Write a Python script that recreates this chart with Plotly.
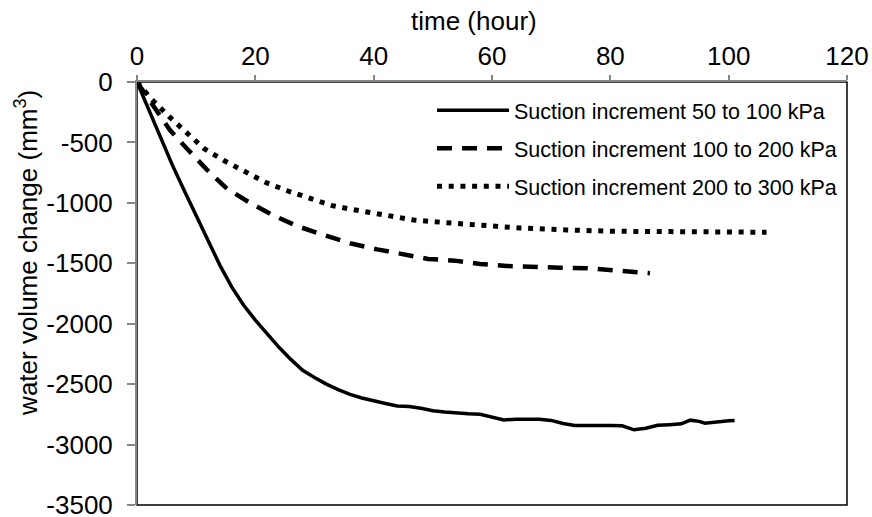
import plotly.graph_objects as go

# Suction increment 50 to 100 kPa
t_50_100 = [0, 2, 4, 6, 8, 10, 12, 14, 16, 18, 20, 22, 24, 26, 28, 30, 32, 34, 36, 38,
            40, 42, 44, 46, 48, 50, 52, 54, 56, 58, 60, 62, 64, 66, 68, 70, 72, 74, 76,
            78, 80, 82, 84, 86, 88, 90, 92, 93.5, 95, 96, 98, 100, 101]
v_50_100 = [0, -230, -470, -690, -900, -1105, -1315, -1515, -1695, -1845, -1970, -2085,
            -2195, -2295, -2385, -2445, -2500, -2545, -2585, -2615, -2640, -2660, -2680,
            -2685, -2700, -2720, -2730, -2740, -2745, -2750, -2770, -2796, -2790, -2788,
            -2790, -2800, -2825, -2842, -2840, -2840, -2842, -2845, -2878, -2865, -2840,
            -2835, -2828, -2798, -2808, -2823, -2810, -2803, -2800]

# Suction increment 100 to 200 kPa
t_100_200 = [0, 1, 2.5, 5.6, 8.7, 11.8, 15.2, 19.1, 23.1, 27, 31.5, 36, 40.6, 44.4, 49.2,
             53.7, 58, 62.5, 67, 71.5, 76, 80.5, 84, 86.7]
v_100_200 = [0, -70, -176, -400, -565, -725, -882, -1000, -1105, -1191, -1265, -1334,
             -1385, -1423, -1464, -1478, -1505, -1522, -1533, -1536, -1541, -1555, -1575,
             -1582]

# Suction increment 200 to 300 kPa
t_200_300 = [0, 2.5, 5.4, 8.3, 11.3, 14.7, 18.1, 21.7, 25.4, 29.2, 33, 36.9, 40.8, 46.7,
             52.3, 58, 64.7, 72.6, 80.5, 90.1, 98, 106.4]
v_200_300 = [0, -145, -285, -419, -550, -650, -743, -830, -900, -958, -1023, -1059, -1090,
             -1141, -1164, -1186, -1208, -1224, -1235, -1238, -1241, -1243]

series_names = ["Suction increment 50 to 100 kPa",
                "Suction increment 100 to 200 kPa",
                "Suction increment 200 to 300 kPa"]

x_ticks = [0, 20, 40, 60, 80, 100, 120]
y_ticks = [0, -500, -1000, -1500, -2000, -2500, -3000, -3500]
y_tick_text = ["0", "-500", "-1000", "-1500", "-2000", "-2500", "-3000", "-3500"]

FONT = "Liberation Sans, Arial, sans-serif"
AXIS_GREY = "#868686"

fig = go.Figure()
fig.add_trace(go.Scatter(x=t_50_100, y=v_50_100, mode="lines", name=series_names[0],
                         legendgroup="a",
                         line=dict(color="black", width=3.5)))
fig.add_trace(go.Scatter(x=t_100_200, y=v_100_200, mode="lines", name=series_names[1],
                         legendgroup="b",
                         line=dict(color="black", width=4.5, dash="15px,10px")))
fig.add_trace(go.Scatter(x=t_200_300, y=v_200_300, mode="lines", name=series_names[2],
                         legendgroup="c",
                         line=dict(color="black", width=5, dash="5px,6.7px")))

# black frame around the plot area; grey axis lines sit on top of it
fig.add_shape(type="rect", xref="paper", yref="paper", x0=0, x1=1, y0=0, y1=1,
              line=dict(color="black", width=1.5), layer="below")

fig.update_layout(
    width=872, height=517,
    margin=dict(l=137, r=25, t=82, b=12),
    paper_bgcolor="white", plot_bgcolor="white",
    font=dict(family=FONT, size=26, color="black"),
    showlegend=True,
    legend=dict(x=0.4155, y=0.9815, xanchor="left", yanchor="top",
                bgcolor="rgba(0,0,0,0)", font=dict(size=21.5),
                itemwidth=72, tracegroupgap=7),
    xaxis=dict(side="top", range=[0, 120], tickvals=x_ticks,
               showgrid=False, zeroline=False, automargin=False,
               showline=True, linecolor=AXIS_GREY, linewidth=2,
               ticks="outside", ticklen=5, tickwidth=1.5, tickcolor=AXIS_GREY,
               tickfont=dict(size=26), ticklabeloverflow="allow"),
    yaxis=dict(range=[-3500, 0], tickvals=y_ticks, ticktext=y_tick_text,
               showgrid=False, zeroline=False, automargin=False,
               showline=True, linecolor=AXIS_GREY, linewidth=2,
               ticks="outside", ticklen=8, tickwidth=1.5, tickcolor=AXIS_GREY,
               tickfont=dict(size=26), ticklabeloverflow="allow",
               ticklabelstandoff=9),
    annotations=[
        dict(text="time (hour)", xref="paper", yref="paper", x=0.474, y=1.0,
             yshift=61, xanchor="center", yanchor="middle", showarrow=False,
             font=dict(size=26)),
        dict(text="water volume change (mm<sup>3</sup>)", xref="paper", yref="paper",
             x=0, xshift=-110, y=0.596, xanchor="center", yanchor="middle",
             textangle=-90, showarrow=False, font=dict(size=26)),
    ],
)

fig.write_html("out.html")
